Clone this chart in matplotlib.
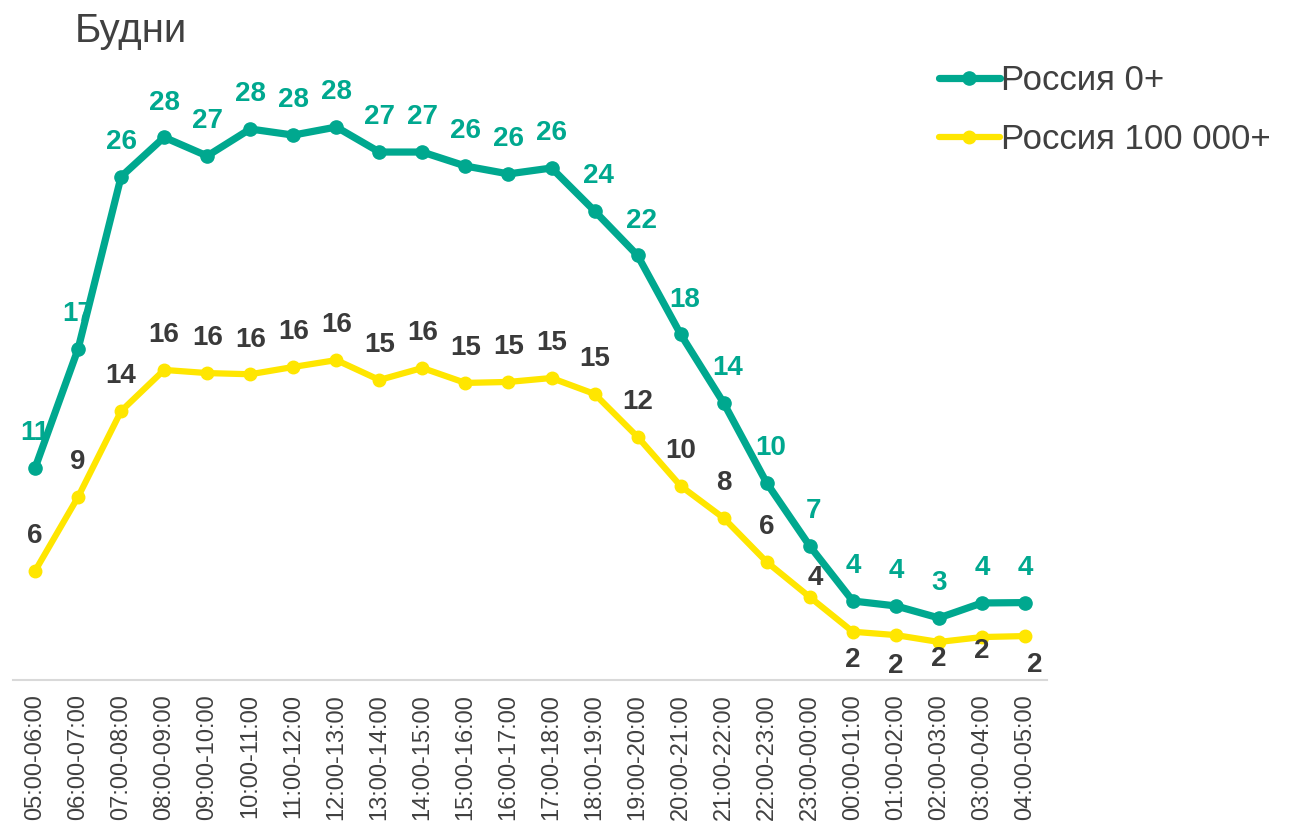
import matplotlib
matplotlib.use("Agg")
import matplotlib.pyplot as plt

plt.rcParams["font.family"] = ["Liberation Sans", "DejaVu Sans"]

# данные (доли, %)
hours = [
    "05:00-06:00", "06:00-07:00", "07:00-08:00", "08:00-09:00", "09:00-10:00",
    "10:00-11:00", "11:00-12:00", "12:00-13:00", "13:00-14:00", "14:00-15:00",
    "15:00-16:00", "16:00-17:00", "17:00-18:00", "18:00-19:00", "19:00-20:00",
    "20:00-21:00", "21:00-22:00", "22:00-23:00", "23:00-00:00", "00:00-01:00",
    "01:00-02:00", "02:00-03:00", "03:00-04:00", "04:00-05:00",
]
russia_all = [10.76, 16.80, 25.55, 27.55, 26.6, 27.97, 27.66, 28.07, 26.8, 26.8,
              26.09, 25.69, 25.99, 23.81, 21.55, 17.55, 14.06, 10.0, 6.8, 4.01,
              3.76, 3.15, 3.91, 3.93]
russia_100k = [5.53, 9.29, 13.65, 15.74, 15.58, 15.52, 15.89, 16.24, 15.23, 15.84,
               15.08, 15.13, 15.33, 14.52, 12.34, 9.85, 8.22, 5.99, 4.21, 2.45,
               2.28, 1.93, 2.18, 2.23]
labels_all = [11, 17, 26, 28, 27, 28, 28, 28, 27, 27, 26, 26, 26, 24, 22, 18,
              14, 10, 7, 4, 4, 3, 4, 4]
labels_100k = [6, 9, 14, 16, 16, 16, 16, 16, 15, 16, 15, 15, 15, 15, 12, 10,
               8, 6, 4, 2, 2, 2, 2, 2]

TEAL = "#00A88F"
YELLOW = "#FFE600"
DARK = "#404040"

W, H = 1291, 824
fig = plt.figure(figsize=(W / 100, H / 100), dpi=100)
ax = fig.add_axes([13.5 / W, (H - 680) / H, 1033 / W, 591 / H])

x = list(range(len(hours)))
ax.plot(x, russia_all, color=TEAL, lw=5.2, marker="o", ms=9.5,
        solid_capstyle="round", label="Россия 0+", zorder=3)
ax.plot(x, russia_100k, color=YELLOW, lw=4.5, marker="o", ms=9,
        solid_capstyle="round", label="Россия 100 000+", zorder=2)

ax.set_xlim(-0.5, len(hours) - 0.5)
ax.set_ylim(0, 30)

# подписи значений
for i, (v, lab) in enumerate(zip(russia_all, labels_all)):
    dx = 3 if 13 <= i <= 18 else 0
    ax.annotate(str(lab), (i, v), xytext=(dx, 25), textcoords="offset points",
                ha="center", va="center", fontsize=20, fontweight="bold",
                color=TEAL, zorder=4)

# смещения подписей второй серии (в пунктах)
off_100k = [(0, 25)] * 18 + [(4, 14), (0, -20), (0, -22), (0, -12), (0, -10), (7, -21)]
for i, (v, lab) in enumerate(zip(russia_100k, labels_100k)):
    dx, dy = off_100k[i]
    ax.annotate(str(lab), (i, v), xytext=(dx, dy), textcoords="offset points",
                ha="center", va="center", fontsize=20, fontweight="bold",
                color="#3A3A3A", zorder=4)

ax.set_xticks(x)
ax.set_xticklabels(hours, rotation=90, fontsize=17, color=DARK)
ax.tick_params(axis="x", length=0, pad=10)
ax.set_yticks([])
for side in ["top", "right", "left"]:
    ax.spines[side].set_visible(False)
ax.spines["bottom"].set_color("#D9D9D9")
ax.spines["bottom"].set_linewidth(1.5)
ax.patch.set_alpha(0)

fig.text(75 / W, 1 - 31 / H, "Будни", fontsize=29, color=DARK,
         ha="left", va="center")

fig.legend(loc="upper left", bbox_to_anchor=(925 / W, 1 - 50 / H),
           frameon=False, fontsize=25, labelcolor=DARK,
           handlelength=1.75, handletextpad=0.05, labelspacing=0.75,
           borderaxespad=0)

fig.savefig("out.png", dpi=100)
